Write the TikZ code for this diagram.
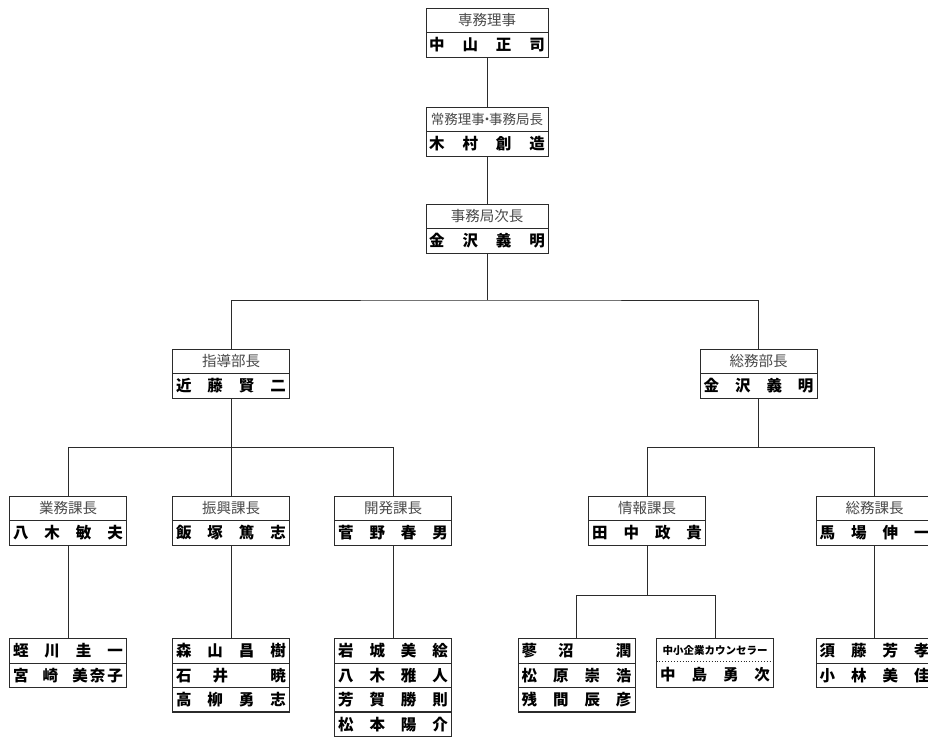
\documentclass[tikz,border=0pt]{standalone}
\usepackage{fontspec}
\newfontfamily\cjk{Noto Sans CJK JP}
\definecolor{linec}{HTML}{2B2B2B}
\definecolor{ttlc}{HTML}{4A4A4A}
\newcommand\spr[2][110pt]{\makebox[#1][s]{#2}}
\tikzset{
 rowbox/.style={draw=linec, line width=0.9pt, minimum height=24.5pt, inner sep=0pt, outer sep=0pt, anchor=north, text=black},
 wide/.style={minimum width=122pt},
 std/.style={minimum width=117pt},
 ttl/.style={rowbox, std, font=\cjk\fontsize{14.5}{15}\selectfont, text=ttlc},
 nm/.style={rowbox, std, font=\cjk\bfseries\fontsize{15.5}{16}\selectfont},
 conn/.style={draw=linec, line width=0.9pt},
 heavy/.style={draw=linec, line width=2pt},
}
\begin{document}
\begin{tikzpicture}[x=1pt,y=-1pt]
\useasboundingbox[fill=white] (0,0) rectangle (928,740);
% top chain
\node[ttl,wide] (At) at (487,8) {専務理事};
\node[nm,wide] (An) at (At.south) {\spr[116pt]{中\hfill 山\hfill 正\hfill 司}};
\node[ttl,wide,font=\cjk\fontsize{13.5}{14}\selectfont] (Bt) at (487,107) {常務理事\hspace{-0.35em}・\hspace{-0.35em}事務局長};
\node[nm,wide] (Bn) at (Bt.south) {\spr[116pt]{木\hfill 村\hfill 創\hfill 造}};
\node[ttl,wide] (Ct) at (487,204) {事務局次長};
\node[nm,wide] (Cn) at (Ct.south) {\spr[116pt]{金\hfill 沢\hfill 義\hfill 明}};
% departments
\node[ttl] (Dt) at (231,349) {指導部長};
\node[nm] (Dn) at (Dt.south) {\spr{近\hfill 藤\hfill 賢\hfill 二}};
\node[ttl] (Et) at (758.5,349) {総務部長};
\node[nm] (En) at (Et.south) {\spr{金\hfill 沢\hfill 義\hfill 明}};
% sections
\node[ttl] (Ft) at (68,496) {業務課長};
\node[nm] (Fn) at (Ft.south) {\spr{八\hfill 木\hfill 敏\hfill 夫}};
\node[ttl] (Gt) at (231,496) {振興課長};
\node[nm] (Gn) at (Gt.south) {\spr{飯\hfill 塚\hfill 篤\hfill 志}};
\node[ttl] (Ht) at (393,496) {開発課長};
\node[nm] (Hn) at (Ht.south) {\spr{菅\hfill 野\hfill 春\hfill 男}};
\node[ttl] (It) at (647,496) {情報課長};
\node[nm] (In) at (It.south) {\spr{田\hfill 中\hfill 政\hfill 貴}};
\node[ttl] (Jt) at (874.5,496) {総務課長};
\node[nm] (Jn) at (Jt.south) {\spr{馬\hfill 場\hfill 伸\hfill 一}};
% staff
\node[nm] (K1) at (68,638.5) {\spr{蛭\hfill 川\hfill 圭\hfill 一}};
\node[nm] (K2) at (K1.south) {\spr{宮\hfill 崎\hfill 美\hspace{2pt}奈\hspace{2pt}子}};
\node[nm] (L1) at (231,638.5) {\spr{森\hfill 山\hfill 昌\hfill 樹}};
\node[nm] (L2) at (L1.south) {\spr{石\hfill 井\hfill\hfill 暁}};
\node[nm] (L3) at (L2.south) {\spr{高\hfill 柳\hfill 勇\hfill 志}};
\node[nm] (M1) at (393,638.5) {\spr{岩\hfill 城\hfill 美\hfill 絵}};
\node[nm] (M2) at (M1.south) {\spr{八\hfill 木\hfill 雅\hfill 人}};
\node[nm] (M3) at (M2.south) {\spr{芳\hfill 賀\hfill 勝\hfill 則}};
\node[nm] (M4) at (M3.south) {\spr{松\hfill 本\hfill 陽\hfill 介}};
\node[nm] (N1) at (576.5,638.5) {\spr{蓼\hfill 沼\hfill\hfill 潤}};
\node[nm] (N2) at (N1.south) {\spr{松\hfill 原\hfill 崇\hfill 浩}};
\node[nm] (N3) at (N2.south) {\spr{残\hfill 間\hfill 辰\hfill 彦}};
\node[rowbox, std, draw=none, minimum height=23pt, font=\cjk\bfseries\fontsize{10.5}{11}\selectfont] (Ot) at (715,638.5) {中小企業カウンセラー};
\node[nm, draw=none, minimum height=25.5pt] (On) at (Ot.south) {\spr{中\hfill 島\hfill 勇\hfill 次}};
\draw[conn] (Ot.north west) rectangle (On.south east);
\draw[draw=linec, line width=0.9pt, dotted] (Ot.south west) -- (Ot.south east);
\node[nm] (P1) at (874.5,638.5) {\spr{須\hfill 藤\hfill 芳\hfill 孝}};
\node[nm] (P2) at (P1.south) {\spr{小\hfill 林\hfill 美\hfill 佳}};
% heavy lines
\draw[heavy] (L3.south west) -- (L3.south east);
\draw[heavy] (M3.south west) -- (M3.south east);
\draw[heavy] (N3.south west) -- (N3.south east);
% connectors
\draw[conn] (An.south) -- (Bt.north);
\draw[conn] (Bn.south) -- (Ct.north);
\coordinate (bar1) at (487,300);
\draw[conn] (Cn.south) -- (bar1);
\draw[conn] (Dt.north) |- (bar1) -| (Et.north);
\coordinate (bar2) at (231,447);
\draw[conn] (Dn.south) -- (bar2);
\draw[conn] (Ft.north) |- (bar2) -| (Ht.north);
\draw[conn] (bar2) -- (Gt.north);
\coordinate (bar3) at (758.5,447);
\draw[conn] (En.south) -- (bar3);
\draw[conn] (It.north) |- (bar3) -| (Jt.north);
\draw[conn] (Fn.south) -- (K1.north);
\draw[conn] (Gn.south) -- (L1.north);
\draw[conn] (Hn.south) -- (M1.north);
\draw[conn] (Jn.south) -- (P1.north);
\coordinate (bar4) at (647,595);
\draw[conn] (In.south) -- (bar4);
\draw[conn] (N1.north) |- (bar4) -| (Ot.north);
\end{tikzpicture}
\end{document}
